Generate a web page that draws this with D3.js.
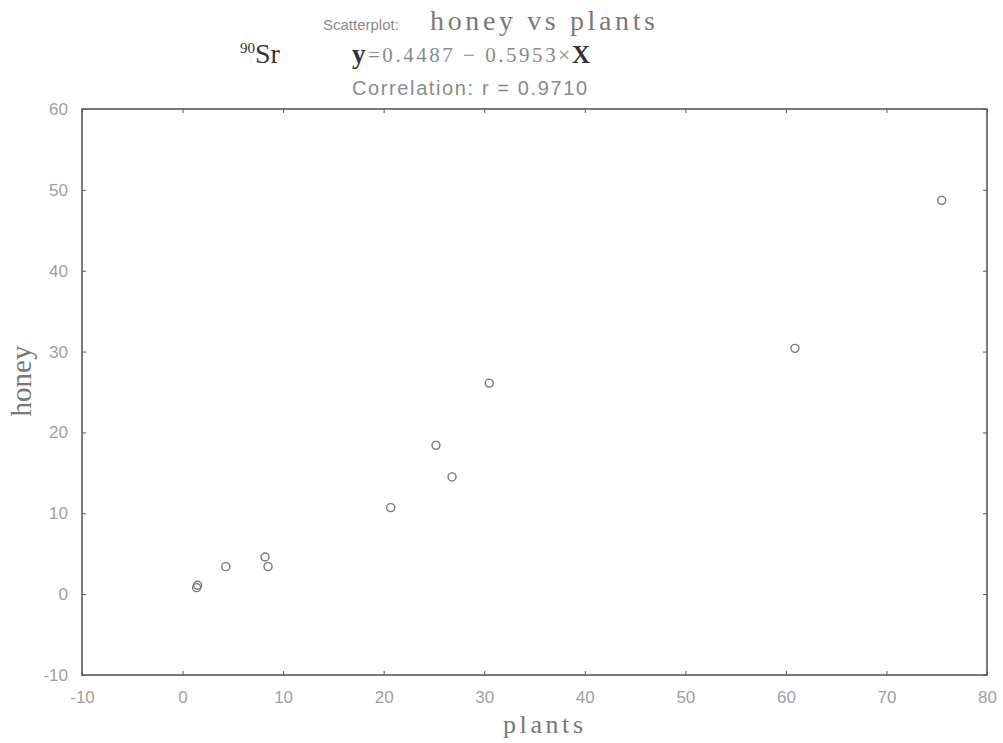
<!DOCTYPE html>
<html>
<head>
<meta charset="utf-8">
<script src="https://cdn.jsdelivr.net/npm/d3@7"></script>
<style>
  body { margin: 0; background: #fff; }
  text { font-family: "Liberation Sans", Arial, sans-serif; }
  .serif { font-family: "Liberation Serif", "Times New Roman", serif; }
</style>
</head>
<body>
<svg id="chart"></svg>
<script>
// data
var plants = [75.5, 60.9, 30.5, 25.2, 26.8, 20.7, 8.2, 8.5, 4.3, 1.5, 1.4];
var honey  = [48.7, 30.4, 26.1, 18.4, 14.5, 10.7, 4.6, 3.4, 3.4, 1.1, 0.8];
var xTicks = [-10, 0, 10, 20, 30, 40, 50, 60, 70, 80];
var yTicks = [-10, 0, 10, 20, 30, 40, 50, 60];

var svgWidth = 1003, svgHeight = 743;
var margin = {top: 109, right: 16, bottom: 68, left: 82};

var svg = d3.select("#chart")
  .attr("width", svgWidth)
  .attr("height", svgHeight);

var x = d3.scaleLinear().domain([-10, 80]).range([margin.left, svgWidth - margin.right]);
var y = d3.scaleLinear().domain([-10, 60]).range([svgHeight - margin.bottom, margin.top]);

var tickCol = "#555";
var fmt = d => String(d);   // plain hyphen for negatives, like the original

// bottom axis, ticks pointing in
var xAxis = svg.append("g")
  .attr("transform", "translate(0," + y(-10) + ")")
  .call(d3.axisBottom(x).tickValues(xTicks).tickSize(-4).tickPadding(14).tickFormat(fmt));
// left axis
var yAxis = svg.append("g")
  .attr("transform", "translate(" + x(-10) + ",0)")
  .call(d3.axisLeft(y).tickValues(yTicks).tickSize(-4).tickPadding(14).tickFormat(fmt));
// top + right, ticks only
var topAxis = svg.append("g")
  .attr("transform", "translate(0," + y(60) + ")")
  .call(d3.axisTop(x).tickValues(xTicks).tickSize(-4).tickFormat(""));
var rightAxis = svg.append("g")
  .attr("transform", "translate(" + x(80) + ",0)")
  .call(d3.axisRight(y).tickValues(yTicks).tickSize(-4).tickFormat(""));

svg.selectAll(".domain").attr("stroke", "none");
svg.selectAll(".tick line").attr("stroke", tickCol).attr("stroke-width", 1);
svg.selectAll(".tick text")
  .attr("fill", "#a0a0a0")
  .style("font-size", "17px");
xAxis.selectAll(".tick text").attr("dy", "0.85em");

// frame
svg.append("rect")
  .attr("x", x(-10))
  .attr("y", y(60))
  .attr("width", x(80) - x(-10))
  .attr("height", y(-10) - y(60))
  .attr("fill", "none")
  .attr("stroke", "#5a5a5a")
  .attr("stroke-width", 1.6);

// points
svg.append("g").selectAll("circle")
  .data(plants)
  .enter()
  .append("circle")
    .attr("cx", d => x(d))
    .attr("cy", (d, i) => y(honey[i]))
    .attr("r", 4)
    .attr("fill", "none")
    .attr("stroke", "#777")
    .attr("stroke-width", 1.4);

// titles
svg.append("text")
  .attr("x", 323).attr("y", 30)
  .attr("fill", "#8a8a8a")
  .style("font-size", "15px")
  .text("Scatterplot:");

svg.append("text").attr("class", "serif")
  .attr("x", 430).attr("y", 30)
  .attr("fill", "#7a7a7a")
  .style("font-size", "28px")
  .attr("textLength", 225).attr("lengthAdjust", "spacing")
  .text("honey vs plants");

var sr = svg.append("text").attr("class", "serif")
  .attr("x", 240).attr("y", 63)
  .attr("fill", "#333");
sr.append("tspan").attr("dy", -10).style("font-size", "15px").text("90");
sr.append("tspan").attr("dy", 10).style("font-size", "28px").text("Sr");

svg.append("text").attr("class", "serif")
  .attr("x", 352).attr("y", 63)
  .attr("fill", "#333").style("font-size", "27px").style("font-weight", "bold")
  .text("y");
svg.append("text").attr("class", "serif")
  .attr("x", 368).attr("y", 62)
  .attr("fill", "#8a8a8a").style("font-size", "21px")
  .attr("textLength", 202).attr("lengthAdjust", "spacing")
  .text("=0.4487 \u2212 0.5953\u00d7");
svg.append("text").attr("class", "serif")
  .attr("x", 572).attr("y", 63)
  .attr("fill", "#333").style("font-size", "25px").style("font-weight", "bold")
  .text("X");

svg.append("text")
  .attr("x", 352).attr("y", 95)
  .attr("fill", "#8a8a8a")
  .style("font-size", "20px")
  .attr("textLength", 235)
  .text("Correlation: r = 0.9710");

// axis labels
svg.append("text").attr("class", "serif")
  .attr("x", 503).attr("y", 733)
  .attr("fill", "#777")
  .style("font-size", "26px")
  .attr("textLength", 80).attr("lengthAdjust", "spacing")
  .text("plants");

svg.append("text").attr("class", "serif")
  .attr("transform", "translate(31,381) rotate(-90)")
  .attr("text-anchor", "middle")
  .attr("fill", "#777")
  .style("font-size", "29px")
  .text("honey");
</script>
</body>
</html>
